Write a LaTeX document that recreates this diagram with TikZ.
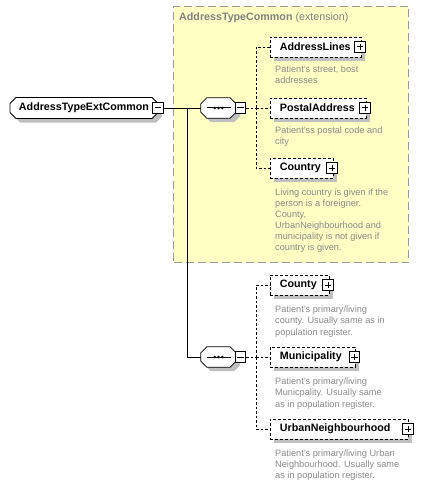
\documentclass[tikz,border=0pt]{standalone}
\usepackage{fontspec}
\setmainfont{Liberation Sans}
\usetikzlibrary{shapes.misc,shadows,calc}
\definecolor{extfill}{HTML}{FFFFC4}
\definecolor{extline}{HTML}{999999}
\definecolor{shgray}{HTML}{C0C0C0}
\definecolor{desccol}{HTML}{8A8A8A}
\definecolor{titlecol}{HTML}{808080}
\newcommand\octapath[4]{% #1 node, #2 dx, #3 dy, #4 options
  \path[#4] ($(#1.north west)+(6+#2,#3)$) -- ($(#1.north east)+(-6+#2,#3)$)
    -- ($(#1.north east)+(#2,6+#3)$) -- ($(#1.south east)+(#2,-6+#3)$)
    -- ($(#1.south east)+(-6+#2,#3)$) -- ($(#1.south west)+(6+#2,#3)$)
    -- ($(#1.south west)+(#2,-6+#3)$) -- ($(#1.north west)+(#2,6+#3)$) -- cycle;}
\begin{document}
\begin{tikzpicture}[x=1pt,y=-1pt,
  namefont/.style={font=\fontsize{10.7}{12}\selectfont\bfseries},
  shad/.style={drop shadow={fill=shgray,opacity=1,shadow xshift=4pt,shadow yshift=-4pt}},
  elem/.style={namefont,draw,dash pattern=on 3pt off 2pt,line width=0.8pt,fill=white,
    shad,anchor=west,minimum height=20pt,inner xsep=9.5pt,inner ysep=0pt,align=left},
  rootbox/.style={namefont,draw,line width=0.8pt,fill=white,shad,chamfered rectangle,
    chamfered rectangle xsep=3pt,chamfered rectangle ysep=3pt,
    minimum width=148pt,minimum height=21pt,inner sep=0pt},
  seqbox/.style={minimum width=35pt,minimum height=20pt,inner sep=0pt},
  pm/.style={draw,fill=white,line width=0.8pt,minimum size=10.5pt,inner sep=0pt},
  minusbox/.style={pm,path picture={
      \draw[line width=1pt] ([xshift=-3.2pt]path picture bounding box.center) -- ([xshift=3.2pt]path picture bounding box.center);}},
  plusbox/.style={pm,path picture={
      \draw[line width=1pt] ([xshift=-3.2pt]path picture bounding box.center) -- ([xshift=3.2pt]path picture bounding box.center);
      \draw[line width=1pt] ([yshift=-3.2pt]path picture bounding box.center) -- ([yshift=3.2pt]path picture bounding box.center);}},
  desc/.style={font=\fontsize{9.2}{11.1}\selectfont,text=desccol,align=left,anchor=north west,inner sep=0pt},
  conn/.style={line width=0.8pt},
  dconn/.style={line width=0.8pt,dash pattern=on 2.5pt off 2pt},
]
\useasboundingbox (0,0) rectangle (436,484);
% extension area
\node[draw=extline,fill=extfill,line width=1pt,dash pattern=on 8pt off 4pt,
  minimum width=235pt,minimum height=256pt,anchor=north west,inner sep=0pt] (ext) at (173,6) {};
\node[anchor=west,inner sep=0pt,text=titlecol,font=\fontsize{10.7}{12}\selectfont] (title) at (179,18)
  {\textbf{AddressTypeCommon} (extension)};

% root
\node[rootbox] (root) at (84,108) {AddressTypeExtCommon};
\node[minusbox] (rootm) at (158,108) {};

% sequences
\node[seqbox] (seq1) at (218.5,108) {};
\node[seqbox] (seq2) at (218.5,357) {};
\foreach \s in {seq1,seq2}{
  \octapath{\s}{4}{4}{fill=shgray}
  \octapath{\s}{0}{0}{draw,fill=white,line width=0.8pt}
  \draw[line width=1pt] ($(\s.center)+(-12,0)$) -- ($(\s.center)+(12,0)$);
  \foreach \dx in {-3.8,0,3.8}{\fill ($(\s.center)+(\dx,0)$) circle (1.4pt);}
}
\node[minusbox] (seq1m) at (240.5,108) {};
\node[minusbox] (seq2m) at (240.5,357) {};

\coordinate (j1) at (187,108);
\coordinate (j2) at (187,357);
\coordinate (b1) at (256,108);
\coordinate (b2) at (256,357);

% elements in extension
\node[elem,text width=72pt] (al) at (270,47) {AddressLines};
\node[plusbox] (alp) at (360,47) {};
\node[desc] (ald) at (275,66) {Patient's street, bost\\addresses};

\node[elem,text width=77pt] (pa) at (270,108) {PostalAddress};
\node[plusbox] (pap) at (365,108) {};
\node[desc] (pad) at (275,127) {Patient'ss postal code and\\city};

\node[elem,text width=44pt] (co) at (270,168) {Country};
\node[plusbox] (cop) at (332,168) {};
\node[desc] (cod) at (275,188.5) {Living country is given if the\\person is a foreigner.\\County,\\UrbanNeighbourhood and\\municipality is not given if\\country is given.};

% elements of second sequence
\node[elem,text width=40pt] (cy) at (270,285) {County};
\node[plusbox] (cyp) at (328,285) {};
\node[desc] (cyd) at (275,306) {Patient's primary/living\\county. Usually same as in\\population register.};

\node[elem,text width=66pt] (mu) at (270,357) {Municipality};
\node[plusbox] (mup) at (354.5,357) {};
\node[desc] (mud) at (275,378) {Patient's primary/living\\Municpality. Usually same\\as in population register.};

\node[elem,text width=119pt] (un) at (270,429) {UrbanNeighbourhood};
\node[plusbox] (unp) at (408,429) {};
\node[desc] (und) at (275,449.5) {Patient's primary/living Urban\\Neighbourhood. Usually same\\as in population register.};

% connectors
\draw[conn] (rootm.east) -- (seq1.west);
\draw[conn] (j1) -- (j2) -- (seq2.west);
\draw[dconn] (seq1m.east) -- (b1);
\draw[dconn] (b1) |- (al.west);
\draw[dconn] (b1) -- (pa.west);
\draw[dconn] (b1) |- (co.west);
\draw[dconn] (seq2m.east) -- (b2);
\draw[dconn] (b2) |- (cy.west);
\draw[dconn] (b2) -- (mu.west);
\draw[dconn] (b2) |- (un.west);
\end{tikzpicture}
\end{document}
